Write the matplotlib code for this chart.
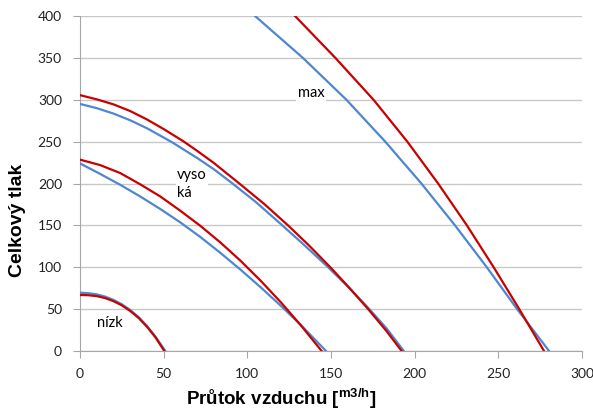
import matplotlib.pyplot as plt

# fan curves: flow [m3/h] vs total pressure
nizk_red_x = [0, 5, 10, 15, 20, 25, 30, 35, 40, 45, 50.4]
nizk_red_y = [66.9, 66.6, 65.5, 63.2, 59.5, 54.5, 47.8, 39.5, 29, 16.5, 0]
nizk_blue_x = [0, 5, 10, 15, 20, 25, 30, 35, 40, 45, 51]
nizk_blue_y = [69.6, 69.0, 67.6, 65.0, 61.0, 55.8, 49, 40.5, 30, 17.5, 0]

stred_red_x = [0, 12, 24, 36, 48, 60, 72, 84, 96, 108, 120, 132, 144.4]
stred_red_y = [228.5, 222, 212.5, 199, 184.5, 167.4, 149.3, 129.4, 107.6, 83.8, 58.2, 30.6, 0]
stred_blue_x = [0, 12, 24, 36, 48, 60, 72, 84, 96, 108, 120, 132, 147]
stred_blue_y = [224, 211.5, 198.5, 184.5, 169.5, 153.5, 136, 117, 97, 76, 54, 31, 0]

vys_red_x = [0, 10, 20, 30, 40, 50, 61.7, 70, 80, 95.2, 110, 124.3, 137, 149.6,
             161, 172.2, 183, 192.2]
vys_red_y = [305.5, 300.5, 294.5, 286.5, 276.5, 265, 250.5, 239, 224.5, 200, 175.7,
             150, 125.7, 100, 75.3, 50, 24.2, 0]
vys_blue_x = [0, 10, 20, 30, 40, 54.8, 70, 80, 90.5, 105, 119.5, 134, 148, 160,
              171.3, 183, 193.5]
vys_blue_y = [295, 290, 283.5, 275.5, 266, 249.5, 230.5, 217, 201, 178, 152.5, 126.5,
              100.5, 77, 53.5, 27.5, 0]

max_red_x = [128.5, 152.6, 175.4, 195.6, 214, 231.2, 247.2, 262.5, 277.3]
max_red_y = [400, 350, 300, 250, 200, 150, 100, 50, 0]
max_blue_x = [104.6, 133.2, 159.2, 182.4, 204, 224.1, 243.1, 261.2, 280.3]
max_blue_y = [400, 350, 300, 250, 200, 150, 100, 50, 0]

red = "#c80000"
blue = "#4f86d0"

fig = plt.figure(figsize=(5.93, 4.17), dpi=100)
ax = fig.add_axes([0.1349, 0.1583, 0.8466, 0.8033])

pairs = [(nizk_blue_x, nizk_blue_y, nizk_red_x, nizk_red_y),
         (stred_blue_x, stred_blue_y, stred_red_x, stred_red_y),
         (vys_blue_x, vys_blue_y, vys_red_x, vys_red_y),
         (max_blue_x, max_blue_y, max_red_x, max_red_y)]
for bx, by, rx, ry in pairs:
    ax.plot(bx, by, color=blue, lw=1.6, zorder=3, solid_joinstyle="round")
    ax.plot(rx, ry, color=red, lw=1.6, zorder=4, solid_joinstyle="round")

ax.set_xlim(0, 300)
ax.set_ylim(0, 400)
ax.set_xticks(range(0, 301, 50))
ax.set_yticks(range(0, 401, 50))
ax.yaxis.grid(True, color="#c8c8c8", lw=1)
ax.set_axisbelow(True)
for s in ["top", "right"]:
    ax.spines[s].set_visible(False)
for s in ["left", "bottom"]:
    ax.spines[s].set_color("#a6a6a6")
ax.tick_params(axis="both", direction="out", length=5, color="#a6a6a6",
               labelsize=10, labelcolor="#222222")
ax.tick_params(axis="x", pad=7)
ax.tick_params(axis="y", pad=8)
for lab in ax.get_xticklabels() + ax.get_yticklabels():
    lab.set_family("Lato")

box = dict(facecolor="white", edgecolor="none", pad=1)
ax.text(130, 308, "max", family="Lato", fontsize=10.5, va="center", zorder=5, bbox=box)
ax.text(58, 218, "vyso\nká", family="Lato", fontsize=10.5, va="top",
        linespacing=1.3, zorder=5, bbox=box)
ax.text(10, 33, "nízk", family="Lato", fontsize=10.5, va="center", zorder=5, bbox=box)

ax.set_ylabel("Celkový tlak", family="Liberation Sans", fontsize=14,
              fontweight="bold")
ax.yaxis.set_label_coords(-0.107, 0.39)
ax.set_xlabel(r"Průtok vzduchu [$^{\mathregular{m3/h}}$]", family="Liberation Sans",
              fontsize=13.5, fontweight="bold")
ax.xaxis.set_label_coords(0.40, -0.105)

fig.savefig("out.png", dpi=100)
